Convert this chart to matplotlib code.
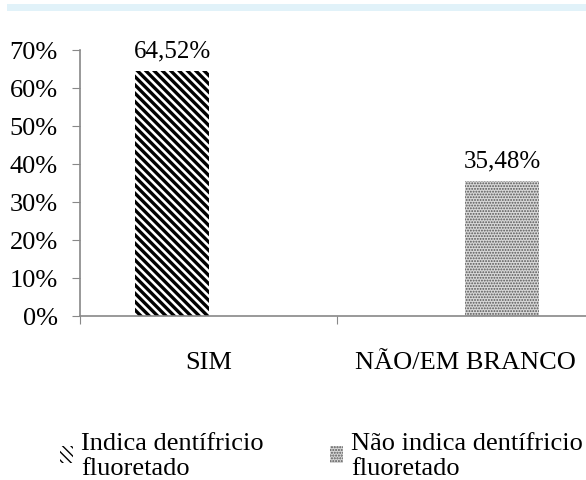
import matplotlib.pyplot as plt
import numpy as np
from matplotlib.patches import Rectangle

categories = ["SIM", "NÃO/EM BRANCO"]
series_names = ["Indica dentífricio\nfluoretado", "Não indica dentífricio\nfluoretado"]
indica = [64.52, 0.0]
nao_indica = [0.0, 35.48]
y_ticks = [0, 10, 20, 30, 40, 50, 60, 70]

plt.rcParams["font.family"] = ["Liberation Serif", "DejaVu Serif"]

fig = plt.figure(figsize=(5.86, 4.81), dpi=100)

# light blue band at the top
fig.patches.append(
    Rectangle((7 / 586, 1 - 12 / 481), 1, 7 / 481, transform=fig.transFigure,
              facecolor="#e1f2f9", edgecolor="none")
)

ax = fig.add_axes([80 / 586, 1 - 317 / 481, 514 / 586, 266 / 481])

x = np.arange(len(categories))
w = 0.29
off = 0.142

with plt.rc_context({"hatch.linewidth": 2.4}):
    b1 = ax.bar(x - off, np.array(indica) / 100, w, facecolor="white",
                edgecolor="black", hatch="\\\\\\\\", linewidth=0, label=series_names[0])
with plt.rc_context({"hatch.linewidth": 0.9}):
    b2 = ax.bar(x + off, np.array(nao_indica) / 100, w, facecolor="#d8d8d8",
                edgecolor="#555555", hatch="......", linewidth=0, label=series_names[1])

ax.bar_label(b1, labels=[f"{v:.2f}%".replace(".", ",") if v else "" for v in indica],
             padding=7, fontsize=18)
ax.bar_label(b2, labels=[f"{v:.2f}%".replace(".", ",") if v else "" for v in nao_indica],
             padding=7, fontsize=18)

ax.set_xlim(-0.5, 1.5)
ax.set_ylim(0, 0.7)
ax.set_yticks([t / 100 for t in y_ticks])
ax.set_yticklabels([f"{t}%" for t in y_ticks], fontsize=19)
ax.tick_params(axis="y", length=6, color="#888888", pad=10)

ax.set_xticks([-0.5, 0.5, 1.5])
ax.set_xticklabels([])
ax.tick_params(axis="x", which="major", length=6, color="#888888")
ax.set_xticks(x, minor=True)
ax.set_xticklabels(categories, minor=True, fontsize=19)
ax.tick_params(axis="x", which="minor", length=0, pad=25)

for s in ["top", "right"]:
    ax.spines[s].set_visible(False)
for s in ["left", "bottom"]:
    ax.spines[s].set_color("#888888")
    ax.spines[s].set_linewidth(1.2)

leg = fig.legend(handles=[b1, b2], loc="upper left", bbox_to_anchor=(60 / 586, 1 - 433 / 481),
                 ncol=2, frameon=False, fontsize=19, handlelength=0.5, handleheight=0.6,
                 handletextpad=0.3, columnspacing=2.5, borderpad=0, borderaxespad=0)
for t in leg.get_texts():
    t.set_linespacing(1.15)

fig.savefig("out.png", dpi=100)
